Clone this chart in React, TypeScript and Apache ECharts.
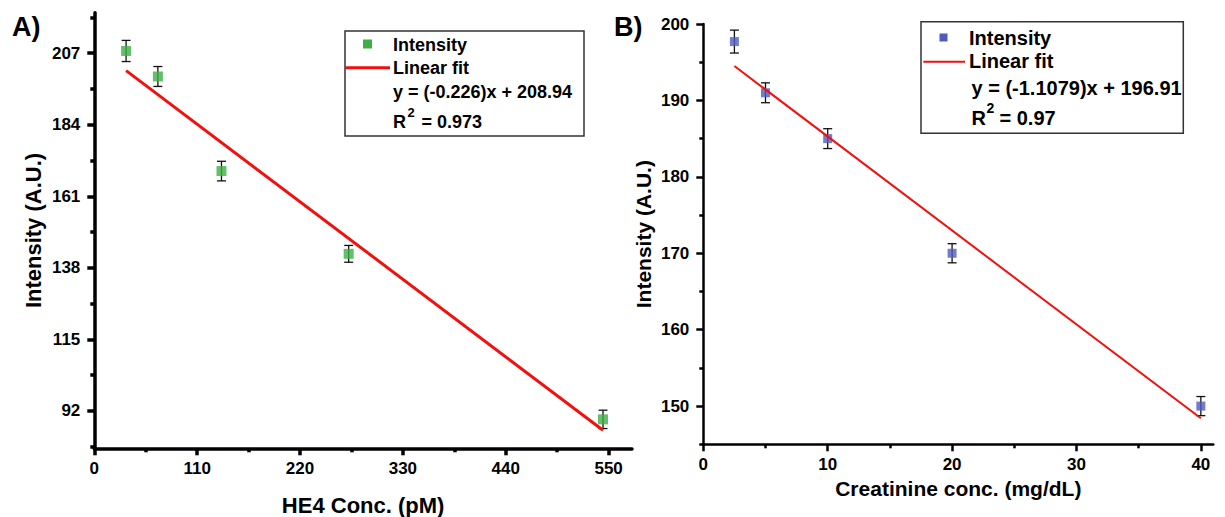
import React, { useEffect, useRef } from 'react';
import * as echarts from 'echarts';

// ---------- Panel A: HE4 ----------
const heX = [34, 68, 136, 272, 544];
const heY = [207.7, 199.5, 169.1, 142.5, 89.3];
const heErr = [3.4, 3.2, 3.15, 2.7, 2.95];
const heFitX = [34, 544];
const heFitY = [201.4, 85.8];
const heXTicks = [0, 110, 220, 330, 440, 550];
const heXMinor = [55, 165, 275, 385, 495];
const heYTicks = [92, 115, 138, 161, 184, 207];
const heYMinor = [80.5, 103.5, 126.5, 149.5, 172.5, 195.5, 218.5];

// ---------- Panel B: Creatinine ----------
const crX = [2.5, 5, 10, 20, 40];
const crY = [197.7, 191.0, 185.0, 170.0, 150.0];
const crErr = [1.5, 1.3, 1.3, 1.25, 1.25];
const crFitX = [2.5, 40];
const crFitY = [194.5, 148.4];
const crXTicks = [0, 10, 20, 30, 40];
const crXMinor = [5, 15, 25, 35];
const crYTicks = [150, 160, 170, 180, 190, 200];
const crYMinor = [145, 155, 165, 175, 185, 195];

const FONT = '"Liberation Sans", Arial, Helvetica, sans-serif';
const GREEN = '#3cb043';
const BLUE = '#4f5bbd';
const RED = '#f2100f';

function mainAxis(opts: any) {
  const { gridIndex, position, min, max, name, nameGap, nameSize, ticks, lw, labelMargin } = opts;
  return {
    type: 'value',
    gridIndex,
    position,
    min,
    max,
    name,
    nameLocation: 'middle',
    nameGap,
    nameTextStyle: { fontSize: nameSize, fontWeight: 'bold', fontFamily: FONT, color: '#000' },
    axisLine: { show: true, onZero: false, lineStyle: { color: '#000', width: lw } },
    axisTick: { show: true, inside: false, length: 7, lineStyle: { color: '#000', width: lw }, customValues: ticks },
    axisLabel: { show: true, margin: labelMargin, fontSize: 17, fontWeight: 'bold', fontFamily: FONT, color: '#000', customValues: ticks },
    splitLine: { show: false },
  };
}

function minorAxis(opts: any) {
  const { gridIndex, position, min, max, ticks, lw } = opts;
  return {
    type: 'value',
    gridIndex,
    position,
    min,
    max,
    axisLine: { show: false, onZero: false },
    axisTick: { show: true, inside: false, length: 4, lineStyle: { color: '#000', width: lw }, customValues: ticks },
    axisLabel: { show: false },
    splitLine: { show: false },
  };
}

function errorSeries(xi: number, yi: number, xs: number[], ys: number[], es: number[]) {
  return {
    type: 'custom',
    xAxisIndex: xi,
    yAxisIndex: yi,
    data: xs.map((x, i) => [x, ys[i], es[i]]),
    renderItem: (params: any, api: any) => {
      const x = api.value(0);
      const y = api.value(1);
      const e = api.value(2);
      const top = api.coord([x, y + e]);
      const bot = api.coord([x, y - e]);
      const cw = 4.5;
      const style = { stroke: '#111', lineWidth: 1.3 };
      return {
        type: 'group',
        children: [
          { type: 'line', shape: { x1: top[0], y1: top[1], x2: bot[0], y2: bot[1] }, style },
          { type: 'line', shape: { x1: top[0] - cw, y1: top[1], x2: top[0] + cw, y2: top[1] }, style },
          { type: 'line', shape: { x1: bot[0] - cw, y1: bot[1], x2: bot[0] + cw, y2: bot[1] }, style },
        ],
      };
    },
    silent: true,
  };
}

function txt(text: string, x: number, y: number, size: number, extra: any = {}) {
  return {
    type: 'text',
    x,
    y,
    z: 100,
    style: { text, fontSize: size, fontWeight: 'bold', fontFamily: FONT, fill: '#000', verticalAlign: 'middle', align: 'left', ...extra },
  };
}

export default function App() {
  const ref = useRef<HTMLDivElement>(null);
  useEffect(() => {
    if (!ref.current) return;
    const chart = echarts.init(ref.current, null, { renderer: 'svg' });
    const option: any = {
      animation: false,
      backgroundColor: '#fff',
      grid: [
        { left: 94.3, top: 12.7, width: 537.7, height: 435.6, containLabel: false, outerBoundsMode: 'none' },
        { left: 703.3, top: 24, width: 510, height: 420.3, containLabel: false, outerBoundsMode: 'none' },
      ],
      xAxis: [
        mainAxis({ gridIndex: 0, position: 'bottom', min: 0, max: 575, name: 'HE4 Conc. (pM)', nameGap: 46, nameSize: 22, ticks: heXTicks, lw: 3.5, labelMargin: 12 }),
        minorAxis({ gridIndex: 0, position: 'bottom', min: 0, max: 575, ticks: heXMinor, lw: 3.5 }),
        mainAxis({ gridIndex: 1, position: 'bottom', min: 0, max: 41, name: 'Creatinine conc. (mg/dL)', nameGap: 31, nameSize: 21, ticks: crXTicks, lw: 2.5, labelMargin: 12 }),
        minorAxis({ gridIndex: 1, position: 'bottom', min: 0, max: 41, ticks: crXMinor, lw: 2.5 }),
      ],
      yAxis: [
        mainAxis({ gridIndex: 0, position: 'left', min: 80, max: 220, name: 'Intensity (A.U.)', nameGap: 50, nameSize: 22, ticks: heYTicks, lw: 3.5, labelMargin: 14 }),
        minorAxis({ gridIndex: 0, position: 'left', min: 80, max: 220, ticks: heYMinor, lw: 3.5 }),
        mainAxis({ gridIndex: 1, position: 'left', min: 145, max: 200, name: 'Intensity (A.U.)', nameGap: 49, nameSize: 21, ticks: crYTicks, lw: 2.5, labelMargin: 14 }),
        minorAxis({ gridIndex: 1, position: 'left', min: 145, max: 200, ticks: crYMinor, lw: 2.5 }),
      ],
      series: [
        errorSeries(0, 0, heX, heY, heErr),
        {
          type: 'scatter', name: 'Intensity', xAxisIndex: 0, yAxisIndex: 0,
          symbol: 'rect', symbolSize: 10, itemStyle: { color: GREEN },
          data: heX.map((x, i) => [x, heY[i]]), silent: true,
        },
        {
          type: 'line', name: 'Linear fit', xAxisIndex: 0, yAxisIndex: 0,
          showSymbol: false, symbol: 'none', lineStyle: { color: RED, width: 3 },
          data: heFitX.map((x, i) => [x, heFitY[i]]), silent: true,
        },
        errorSeries(2, 2, crX, crY, crErr),
        {
          type: 'scatter', name: 'Intensity', xAxisIndex: 2, yAxisIndex: 2,
          symbol: 'rect', symbolSize: 9, itemStyle: { color: BLUE },
          data: crX.map((x, i) => [x, crY[i]]), silent: true,
        },
        {
          type: 'line', name: 'Linear fit', xAxisIndex: 2, yAxisIndex: 2,
          showSymbol: false, symbol: 'none', lineStyle: { color: RED, width: 2 },
          data: crFitX.map((x, i) => [x, crFitY[i]]), silent: true,
        },
      ],
      graphic: [
        txt('A)', 12, 27, 27),
        txt('B)', 614, 27, 27),
        // legend A
        { type: 'rect', z: 90, shape: { x: 345, y: 31, width: 239, height: 105 }, style: { fill: '#fff', stroke: '#333', lineWidth: 1.5 } },
        { type: 'rect', z: 100, shape: { x: 363, y: 39.5, width: 9, height: 9 }, style: { fill: GREEN } },
        txt('Intensity', 393, 44.5, 18),
        { type: 'line', z: 100, shape: { x1: 345, y1: 67.7, x2: 390, y2: 67.7 }, style: { stroke: RED, lineWidth: 3 } },
        txt('Linear fit', 393, 67.7, 18),
        txt('y = (-0.226)x + 208.94', 393, 91.5, 18),
        txt('R', 393, 121.5, 18),
        txt('2', 407.5, 112, 13),
        txt('= 0.973', 421.5, 121.5, 18),
        // legend B
        { type: 'rect', z: 90, shape: { x: 921, y: 21.7, width: 262.3, height: 111.6 }, style: { fill: '#fff', stroke: '#333', lineWidth: 1.5 } },
        { type: 'rect', z: 100, shape: { x: 939.5, y: 33.5, width: 8, height: 8 }, style: { fill: BLUE } },
        txt('Intensity', 969, 37.5, 20),
        { type: 'line', z: 100, shape: { x1: 923.3, y1: 61.7, x2: 965, y2: 61.7 }, style: { stroke: RED, lineWidth: 2 } },
        txt('Linear fit', 969, 61, 20),
        txt('y = (-1.1079)x + 196.91', 971.5, 88, 20),
        txt('R', 971.5, 117.5, 20),
        txt('2', 986.5, 108, 14),
        txt('= 0.97', 999.5, 117.5, 20),
      ],
    };
    chart.setOption(option);
    return () => chart.dispose();
  }, []);
  return <div ref={ref} style={{ position: 'absolute', left: 0, top: 0, width: 1225, height: 517, background: '#fff' }} />;
}
